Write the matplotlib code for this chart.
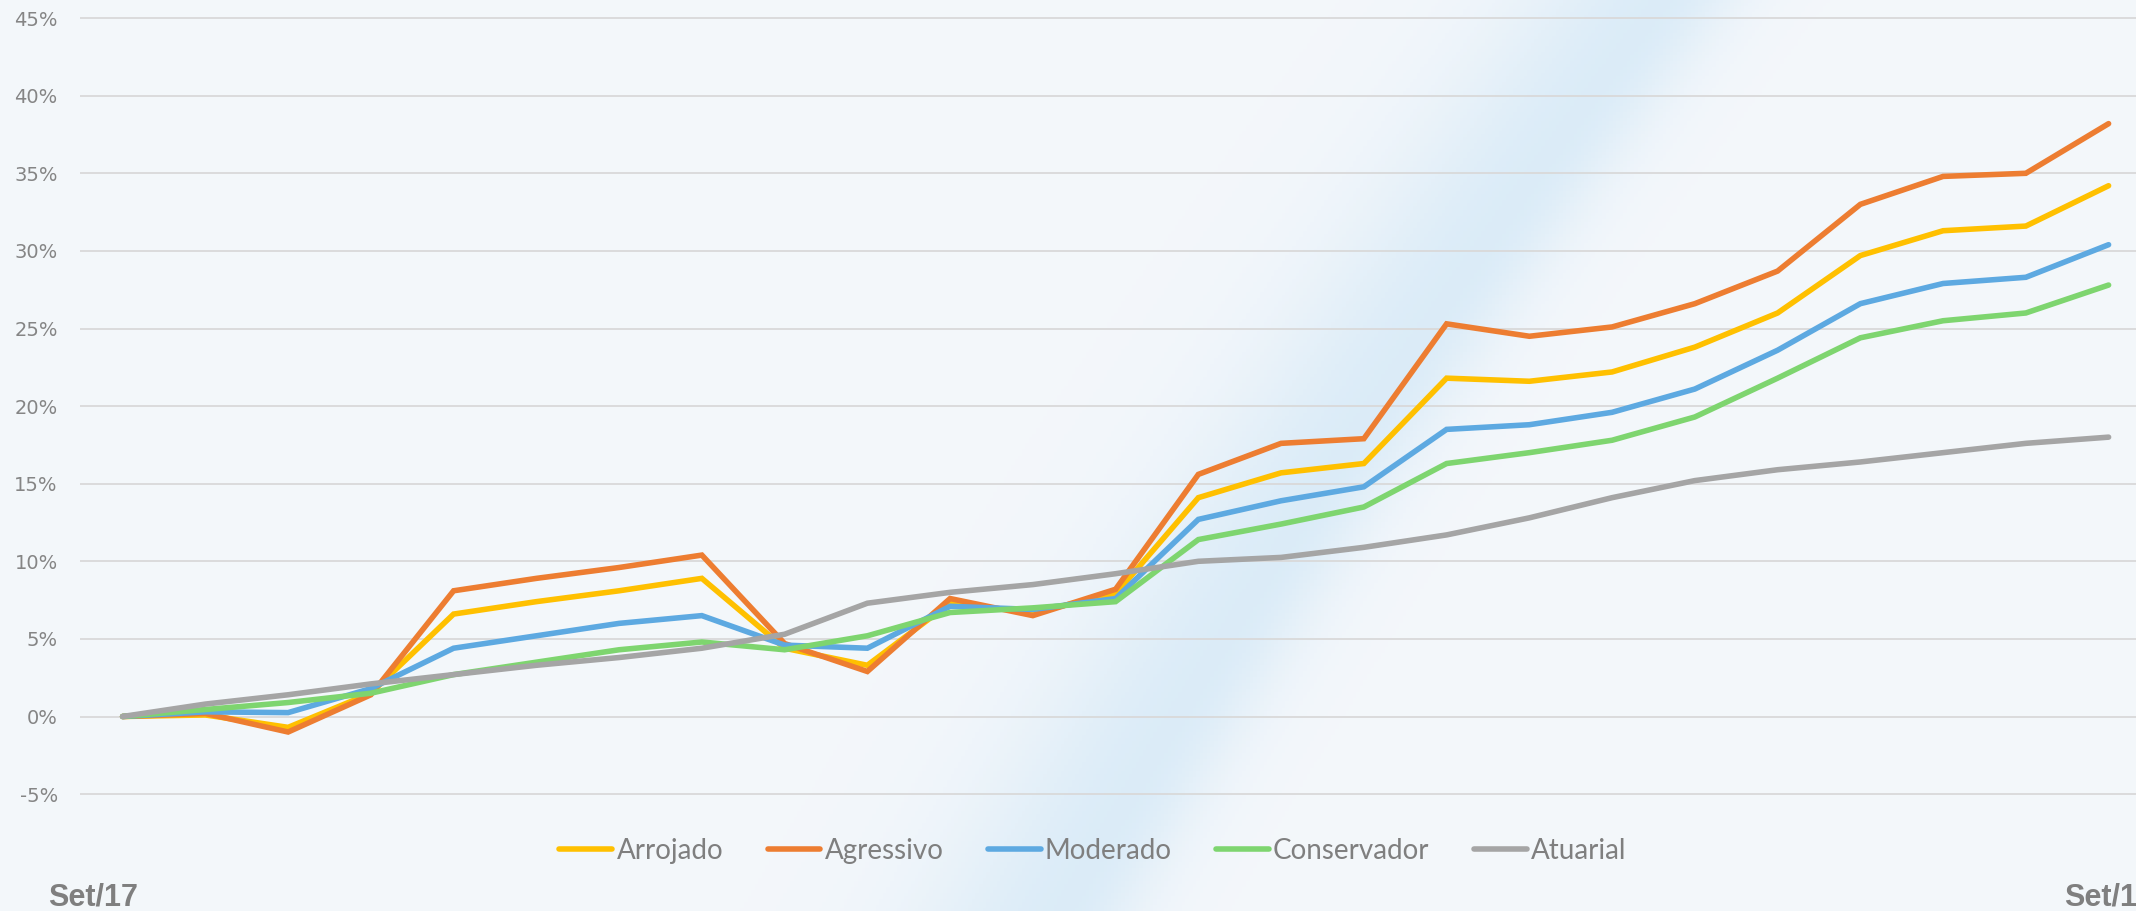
import numpy as np
import matplotlib
matplotlib.use("Agg")
import matplotlib.pyplot as plt

# rentabilidade acumulada (%) - Set/17 a Set/19, mensal
arrojado = [0, 0.1, -0.7, 1.5, 6.6, 7.4, 8.1, 8.9, 4.4, 3.3, 7.3, 6.7, 7.9,
            14.1, 15.7, 16.3, 21.8, 21.6, 22.2, 23.8, 26.0, 29.7, 31.3, 31.6, 34.2]
agressivo = [0, 0.2, -1.0, 1.4, 8.1, 8.9, 9.6, 10.4, 4.7, 2.9, 7.6, 6.5, 8.2,
             15.6, 17.6, 17.9, 25.3, 24.5, 25.1, 26.6, 28.7, 33.0, 34.8, 35.0, 38.2]
moderado = [0, 0.3, 0.25, 1.8, 4.4, 5.2, 6.0, 6.5, 4.6, 4.4, 7.1, 6.9, 7.6,
            12.7, 13.9, 14.8, 18.5, 18.8, 19.6, 21.1, 23.6, 26.6, 27.9, 28.3, 30.4]
conservador = [0, 0.45, 0.9, 1.5, 2.7, 3.5, 4.3, 4.8, 4.3, 5.2, 6.7, 7.0, 7.4,
               11.4, 12.4, 13.5, 16.3, 17.0, 17.8, 19.3, 21.8, 24.4, 25.5, 26.0, 27.8]
atuarial = [0, 0.8, 1.4, 2.1, 2.7, 3.3, 3.8, 4.4, 5.3, 7.3, 8.0, 8.5, 9.2,
            10.0, 10.25, 10.9, 11.7, 12.8, 14.1, 15.2, 15.9, 16.4, 17.0, 17.6, 18.0]

series = ["Arrojado", "Agressivo", "Moderado", "Conservador", "Atuarial"]
cores = ["#FFC000", "#ED7D31", "#5DA9E1", "#7ED56F", "#A5A5A5"]
y_ticks = [-5, 0, 5, 10, 15, 20, 25, 30, 35, 40, 45]
rotulo_ini = "Set/17"
rotulo_fim = "Set/19"

W, H = 2136, 911
fig = plt.figure(figsize=(W / 100, H / 100), dpi=100)

# fundo: cor clara com faixa diagonal azulada suave
bg = fig.add_axes([0, 0, 1, 1], zorder=-1)
bg.axis("off")
gx, gy = np.meshgrid(np.linspace(0, 1, 600), np.linspace(0, 1, 300))
centro = 0.50 + 0.24 * gy + 0.04 * gy ** 2
d = gx - centro
faixa = np.where(d < 0, np.exp(-(d / 0.07) ** 2), np.exp(-(d / 0.035) ** 2))
base = np.array([0.955, 0.969, 0.984])
azul = np.array([0.86, 0.925, 0.972])
img = base[None, None, :] * (1 - faixa[..., None]) + azul[None, None, :] * faixa[..., None]
bg.imshow(img, extent=[0, 1, 0, 1], origin="lower", aspect="auto")
bg.set_xlim(0, 1)
bg.set_ylim(0, 1)

# eixo: x=0 em 122.6px, passo 82.75px ; 0% em 716.5px, 15.52px por 1%
x0, dx = 122.6, 82.75
left_px = 80
xmin = (left_px - x0) / dx
xmax = (W - x0) / dx
ymin, ymax = -6, 46
y0, dy = 716.5, 15.52
top_px = y0 - ymax * dy
bot_px = y0 - ymin * dy
ax = fig.add_axes([left_px / W, 1 - bot_px / H, 1 - left_px / W, (bot_px - top_px) / H])
ax.set_facecolor("none")
ax.set_xlim(xmin, xmax)
ax.set_ylim(ymin, ymax)

x = np.arange(len(arrojado))
dados = [arrojado, agressivo, moderado, conservador, atuarial]
for nome, vals, c in zip(series, dados, cores):
    ax.plot(x, vals, color=c, lw=4, label=nome, solid_capstyle="round", solid_joinstyle="miter")

for s in ax.spines.values():
    s.set_visible(False)
ax.set_yticks(y_ticks)
ax.set_yticklabels([f"{v}%" for v in y_ticks], fontsize=14, color="#858585", family="DejaVu Sans")
ax.set_xticks([])
ax.tick_params(axis="y", length=0, pad=16)
ax.grid(axis="y", color="#d9d9d9", lw=1.3)
ax.set_axisbelow(True)

leg = fig.legend(loc="center", bbox_to_anchor=(1093 / W, 1 - 851 / H), ncol=5, frameon=False,
                 prop={"family": "Lato", "size": 20}, handlelength=1.9, handletextpad=0.15,
                 columnspacing=1.6)
for t in leg.get_texts():
    t.set_color("#7f7f7f")

fig.text(48 / W, 1 - 906 / H, rotulo_ini, fontsize=22, fontweight="bold", color="#7f7f7f",
         family="Liberation Sans", va="baseline", ha="left")
fig.text(2064 / W, 1 - 906 / H, rotulo_fim, fontsize=22, fontweight="bold", color="#7f7f7f",
         family="Liberation Sans", va="baseline", ha="left")

fig.savefig("out.png", dpi=100)
